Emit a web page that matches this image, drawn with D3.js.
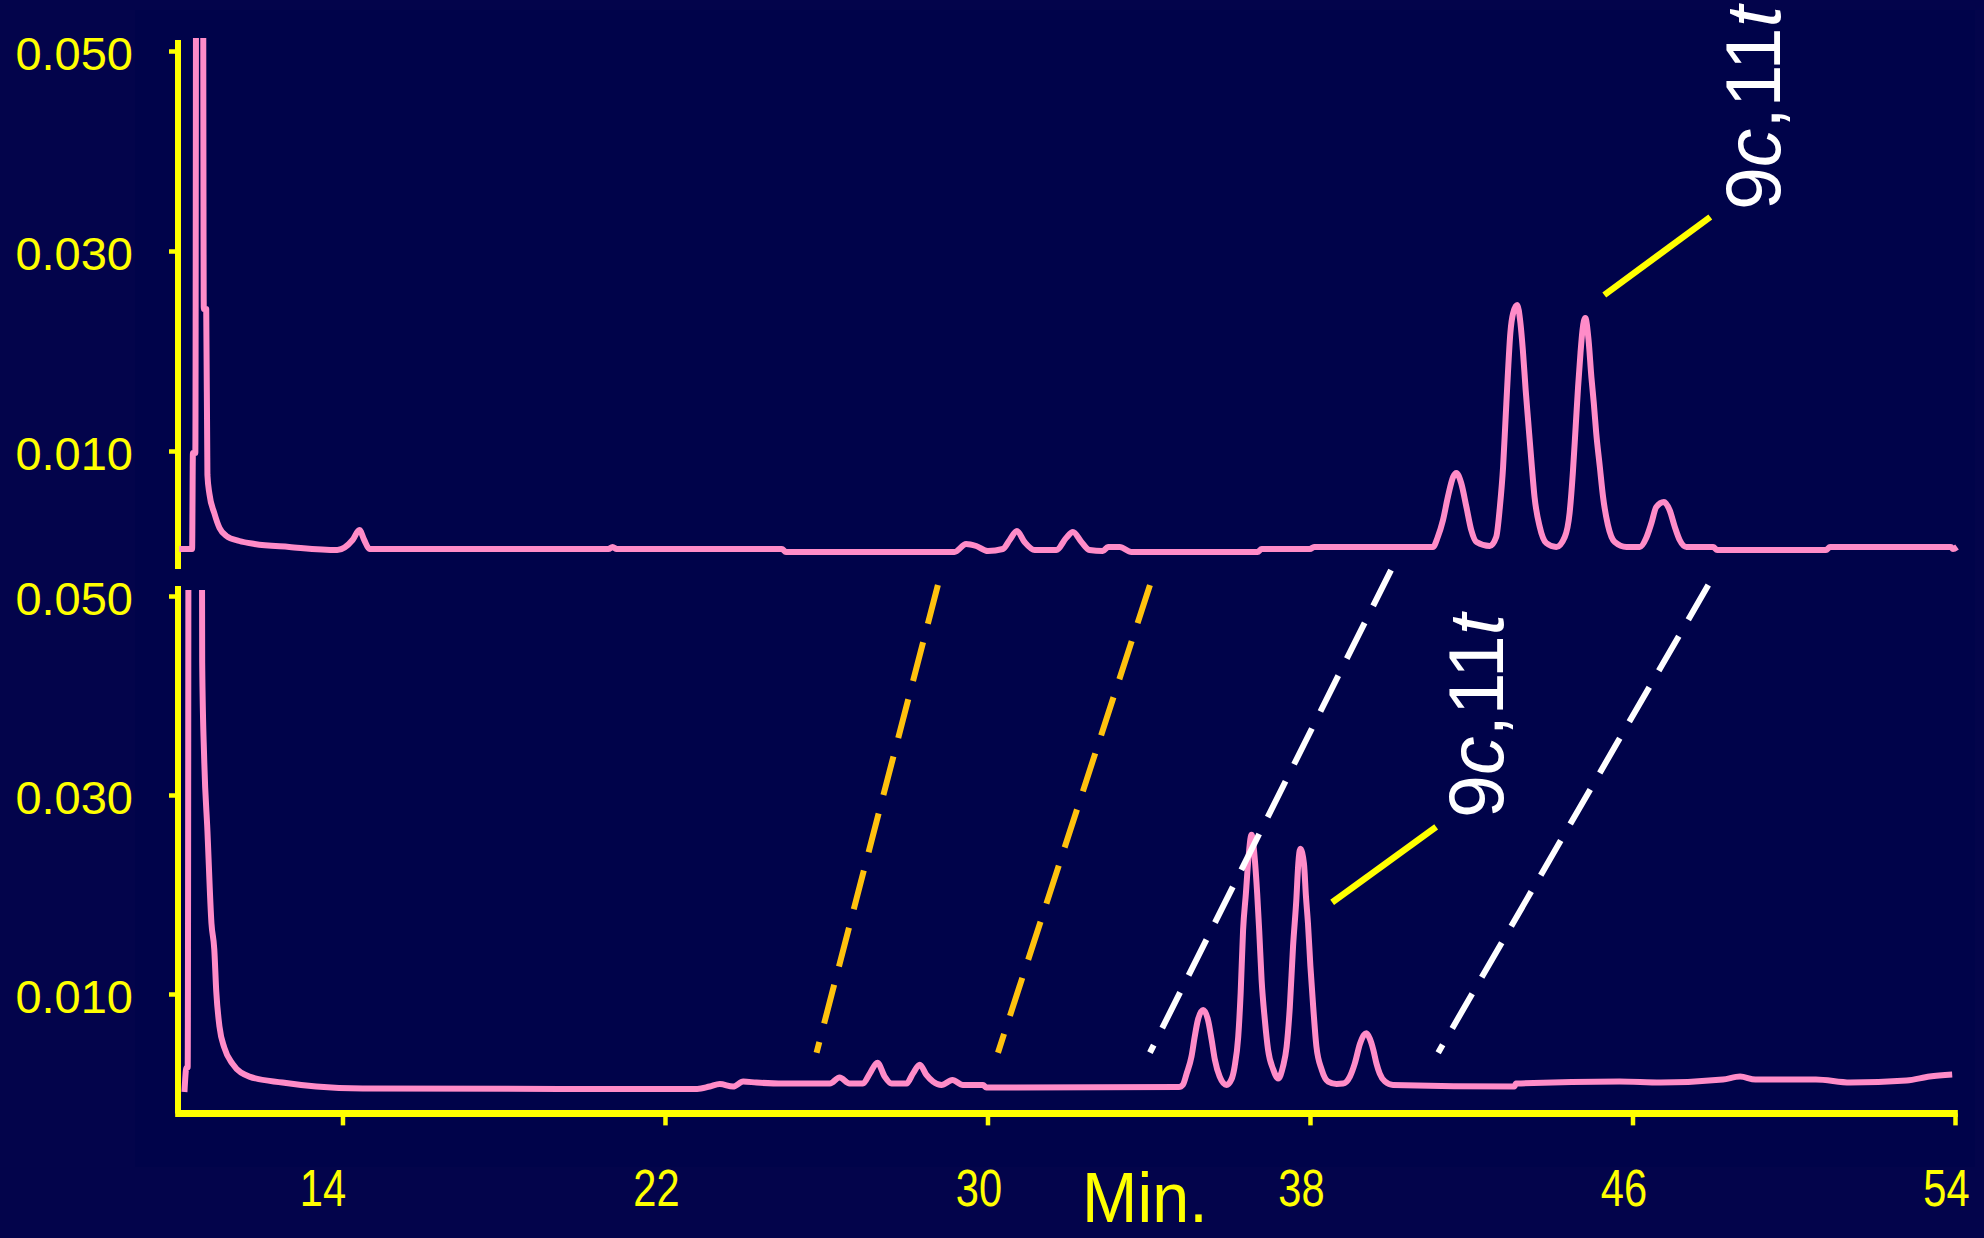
<!DOCTYPE html>
<html>
<head>
<meta charset="utf-8">
<script src="https://cdn.jsdelivr.net/npm/d3@7"></script>
<style>
  html, body { margin: 0; padding: 0; background: #03044b; }
  svg { display: block; }
  text { font-family: "Liberation Sans", Arial, Helvetica, sans-serif; }
</style>
</head>
<body>
<svg id="chart"></svg>
<script>
/*global d3*/

// upper chromatogram, [minutes, absorbance AU]
const upperTrace = [
    [9.95, 0.0002], [10.27, 0.0002], [10.29, 0.0098], [10.35, 0.0098], [10.38, 0.090],
    [10.53, 0.090], [10.56, 0.0242], [10.62, 0.0242], [10.65, 0.0076], [10.70, 0.0057],
    [10.82, 0.0038], [10.95, 0.0023], [11.12, 0.0015], [11.44, 0.0010], [11.82, 0.0007],
    [12.68, 0.0004], [13.87, 0.0001], [14.25, 0.0011], [14.42, 0.0021], [14.54, 0.0011],
    [14.67, 0.0002], [20.6, 0.0002], [20.7, 0.0004], [20.8, 0.0002], [24.9, 0.0002],
    [25.0, -0.0001], [29.18, -0.0001], [29.47, 0.0007], [29.72, 0.0005], [30.01, 0.0000],
    [30.38, 0.0002], [30.55, 0.0011], [30.73, 0.0020], [30.92, 0.0009], [31.17, 0.0001],
    [31.71, 0.0001], [31.95, 0.0013], [32.12, 0.0019], [32.33, 0.0009], [32.53, 0.0001],
    [32.86, 0.0000], [32.99, 0.0004], [33.28, 0.0004], [33.57, -0.0001], [36.7, -0.0001],
    [36.8, 0.0002], [38.0, 0.0002], [38.1, 0.0004], [41.05, 0.0004],
    [41.17, 0.0014], [41.30, 0.0031], [41.42, 0.0054], [41.55, 0.0074], [41.63, 0.0078],
    [41.75, 0.0068], [41.88, 0.0044], [42.00, 0.0021], [42.13, 0.0009], [42.46, 0.0005],
    [42.62, 0.0014], [42.71, 0.0044], [42.79, 0.0084], [42.85, 0.0131], [42.91, 0.0178],
    [42.97, 0.0218], [43.04, 0.0238], [43.14, 0.0246], [43.22, 0.0228], [43.28, 0.0201],
    [43.35, 0.0161], [43.41, 0.0131], [43.49, 0.0091], [43.57, 0.0054], [43.70, 0.0024],
    [43.86, 0.0008], [44.11, 0.0004],
    [44.32, 0.0014], [44.44, 0.0038], [44.52, 0.0078], [44.59, 0.0124], [44.65, 0.0164],
    [44.71, 0.0198], [44.76, 0.0221], [44.83, 0.0233], [44.91, 0.0211], [44.98, 0.0174],
    [45.04, 0.0148], [45.10, 0.0118], [45.19, 0.0084], [45.27, 0.0054], [45.39, 0.0026],
    [45.56, 0.0009], [45.85, 0.0004],
    [46.18, 0.0004], [46.34, 0.0013], [46.47, 0.0028], [46.59, 0.0044], [46.78, 0.0049],
    [46.92, 0.0041], [47.05, 0.0024], [47.17, 0.0011], [47.34, 0.0004],
    [48.0, 0.0004], [48.1, 0.0001], [50.8, 0.0001], [50.9, 0.0004], [53.9, 0.0004],
    [53.95, 0.0002], [54.05, 0.0004]
];

// lower chromatogram, [minutes, absorbance AU]
const lowerTrace = [
    [10.08, 0.00015], [10.13, 0.0026], [10.16, 0.0026], [10.20, 0.120], [10.48, 0.120],
    [10.52, 0.0433], [10.57, 0.0336], [10.65, 0.0264], [10.75, 0.0171], [10.82, 0.0145],
    [10.87, 0.0102], [10.95, 0.0067], [11.07, 0.0046], [11.27, 0.0030], [11.69, 0.0017],
    [12.51, 0.0011], [13.35, 0.0007], [14.5, 0.0005], [22.8, 0.00045], [23.11, 0.0007],
    [23.36, 0.00095], [23.69, 0.0007], [23.94, 0.0012], [24.27, 0.0011], [24.93, 0.0010],
    [26.09, 0.0010], [26.33, 0.0016], [26.58, 0.0010], [26.91, 0.0010], [27.08, 0.0020],
    [27.27, 0.0031], [27.45, 0.0017], [27.62, 0.0010], [27.99, 0.0010], [28.15, 0.0020],
    [28.32, 0.0029], [28.48, 0.0019], [28.65, 0.0012], [28.86, 0.00085], [29.13, 0.00135],
    [29.39, 0.00085], [29.89, 0.00085], [29.97, 0.0006], [34.75, 0.00065],
    [34.85, 0.0009], [34.94, 0.0020], [35.06, 0.0037], [35.14, 0.0057], [35.22, 0.0074],
    [35.35, 0.0084], [35.47, 0.0074], [35.56, 0.0054], [35.64, 0.0034], [35.76, 0.0017],
    [35.93, 0.00086],
    [36.05, 0.0014], [36.13, 0.0027], [36.22, 0.0057], [36.28, 0.0101], [36.34, 0.0164],
    [36.41, 0.0201], [36.47, 0.0235], [36.55, 0.0260], [36.63, 0.0236], [36.69, 0.0201],
    [36.74, 0.0164], [36.80, 0.0114], [36.88, 0.0074], [36.96, 0.0044], [37.09, 0.0024],
    [37.21, 0.0015],
    [37.33, 0.0027], [37.42, 0.0047], [37.50, 0.0087], [37.58, 0.0148], [37.66, 0.0194],
    [37.71, 0.0231], [37.76, 0.0246], [37.85, 0.0231], [37.90, 0.0198], [37.95, 0.0171],
    [38.01, 0.0128], [38.08, 0.0087], [38.16, 0.0047], [38.29, 0.0024], [38.45, 0.0012],
    [38.66, 0.00096],
    [38.82, 0.0010], [38.99, 0.0017], [39.11, 0.0030], [39.24, 0.0050], [39.34, 0.0059],
    [39.40, 0.00605], [39.48, 0.00555], [39.57, 0.0044], [39.65, 0.0030], [39.73, 0.0020],
    [39.86, 0.0012], [40.06, 0.00086],
    [43.07, 0.0007], [43.11, 0.0010], [45.68, 0.0012], [46.7, 0.0011], [48.24, 0.0014],
    [48.67, 0.0017], [49.05, 0.0014], [50.55, 0.0014], [51.4, 0.0011], [52.8, 0.0013],
    [53.37, 0.0017], [53.93, 0.0019]
];

const yTicks = [0.010, 0.030, 0.050];
const xTicks = [14, 22, 30, 38, 46, 54];
const xLabel = 'Min.';

// dashed guides, lower panel units: [min top, AU top, min bottom, AU bottom]
const goldGuides = [[28.77, 0.0511, 25.76, 0.0041], [34.03, 0.0511, 30.26, 0.0041]];
const whiteGuides = [[40.01, 0.0526, 34.03, 0.0041], [47.88, 0.0511, 41.18, 0.0041]];

// peak labels: [min, AU] of text start and pointer ends
const upperPointer = [[45.30, 0.0256], [47.93, 0.0334]];
const upperLabelAt = [49.67, 0.0341];
const lowerPointer = [[38.55, 0.0192], [41.13, 0.0268]];
const lowerLabelAt = [42.80, 0.0277];
const labelParts = [['9', false], ['c', true], [',', false], ['11', false], ['t', true]];

const width = 1984;
const height = 1238;
const yellow = '#ffff00';
const pink = '#ff8cc8';
const sans = '"Liberation Sans", Arial, Helvetica, sans-serif';

const svg = d3.select('#chart')
    .attr('width', width)
    .attr('height', height);

// 背景
svg.append('rect').attr('width', width).attr('height', height).attr('fill', '#03044b');
svg.append('rect')
    .attr('x', 135).attr('y', 10)
    .attr('width', 1840).attr('height', 1157)
    .attr('fill', '#00034a');

// scales
const x = d3.scaleLinear().domain([9.92, 54]).range([178, 1955]);
const yUp = d3.scaleLinear().domain([0, 0.05]).range([551, 51]);
const yLo = d3.scaleLinear().domain([0, 0.05]).range([1093.5, 596]);

// clip for off-scale peaks
const defs = svg.append('defs');
defs.append('clipPath').attr('id', 'clipUp')
    .append('rect').attr('x', 0).attr('y', yUp(0.0513)).attr('width', width).attr('height', 600);
defs.append('clipPath').attr('id', 'clipLo')
    .append('rect').attr('x', 0).attr('y', yLo(0.0506)).attr('width', width).attr('height', 600);

// axes
function yAxis(scale, top, bottom) {
    const g = svg.append('g').attr('transform', 'translate(' + x(9.92) + ',0)');
    g.call(d3.axisLeft(scale).tickValues(yTicks).tickSize(9).tickPadding(36)
        .tickFormat(d3.format('.3f')));
    g.select('.domain').remove();
    g.selectAll('.tick line').attr('stroke', yellow).attr('stroke-width', 4.5);
    g.selectAll('.tick text')
        .attr('fill', yellow)
        .attr('font-family', sans)
        .style('font-size', '47px')
        .attr('dy', '0.4em');
    g.append('line')
        .attr('y1', scale(top)).attr('y2', scale(bottom))
        .attr('stroke', yellow).attr('stroke-width', 6);
}
yAxis(yUp, 0.0511, -0.0018);
yAxis(yLo, 0.0510, -0.0020);

const xg = svg.append('g').attr('transform', 'translate(0,' + yLo(-0.002) + ')');
xg.call(d3.axisBottom(x).tickValues(xTicks).tickSize(12).tickFormat(d3.format('d')));
xg.select('.domain').remove();
xg.selectAll('.tick line').attr('stroke', yellow).attr('stroke-width', 4.5);
xg.selectAll('.tick text')
    .attr('fill', yellow)
    .attr('font-family', sans)
    .attr('y', null).attr('dy', null)
    .attr('transform', d => 'translate(' + (d === 14 ? -20 : -9) + ',93) scale(0.8,1)')
    .style('font-size', '52px');
xg.append('line')
    .attr('x1', x(9.85)).attr('x2', x(54.07))
    .attr('stroke', yellow).attr('stroke-width', 7);

svg.append('text')
    .attr('transform', 'translate(1082,1222) scale(0.95,1)')
    .attr('fill', yellow)
    .attr('font-family', sans)
    .style('font-size', '70px')
    .text(xLabel);

// traces
const lineUp = d3.line().x(d => x(d[0])).y(d => yUp(d[1])).curve(d3.curveMonotoneX);
const lineLo = d3.line().x(d => x(d[0])).y(d => yLo(d[1])).curve(d3.curveMonotoneX);

svg.append('path')
    .datum(upperTrace)
    .attr('clip-path', 'url(#clipUp)')
    .attr('d', lineUp)
    .attr('fill', 'none').attr('stroke', pink).attr('stroke-width', 6)
    .attr('stroke-linejoin', 'round');

svg.append('path')
    .datum(lowerTrace)
    .attr('clip-path', 'url(#clipLo)')
    .attr('d', lineLo)
    .attr('fill', 'none').attr('stroke', pink).attr('stroke-width', 6)
    .attr('stroke-linejoin', 'round');

// dashed guides
function guides(list, color) {
    svg.append('g').selectAll('line')
        .data(list)
        .enter()
        .append('line')
        .attr('x1', d => x(d[0])).attr('y1', d => yLo(d[1]))
        .attr('x2', d => x(d[2])).attr('y2', d => yLo(d[3]))
        .attr('stroke', color).attr('stroke-width', 6)
        .attr('stroke-dasharray', '40,19');
}
guides(goldGuides, '#ffc20e');
guides(whiteGuides, '#ffffff');

// pointers + labels
function peakLabel(pointer, at, yScale) {
    svg.append('line')
        .attr('x1', x(pointer[0][0])).attr('y1', yScale(pointer[0][1]))
        .attr('x2', x(pointer[1][0])).attr('y2', yScale(pointer[1][1]))
        .attr('stroke', yellow).attr('stroke-width', 6.5);
    const t = svg.append('text')
        .attr('transform', 'translate(' + x(at[0]) + ',' + yScale(at[1]) + ') rotate(-90)')
        .attr('fill', '#ffffff')
        .attr('font-family', sans)
        .style('font-size', '77px');
    t.selectAll('tspan')
        .data(labelParts)
        .enter()
        .append('tspan')
        .attr('font-family', sans)
        .style('font-style', d => d[1] ? 'italic' : 'normal')
        .text(d => d[0]);
}
peakLabel(upperPointer, upperLabelAt, yUp);
peakLabel(lowerPointer, lowerLabelAt, yLo);
</script>
</body>
</html>
